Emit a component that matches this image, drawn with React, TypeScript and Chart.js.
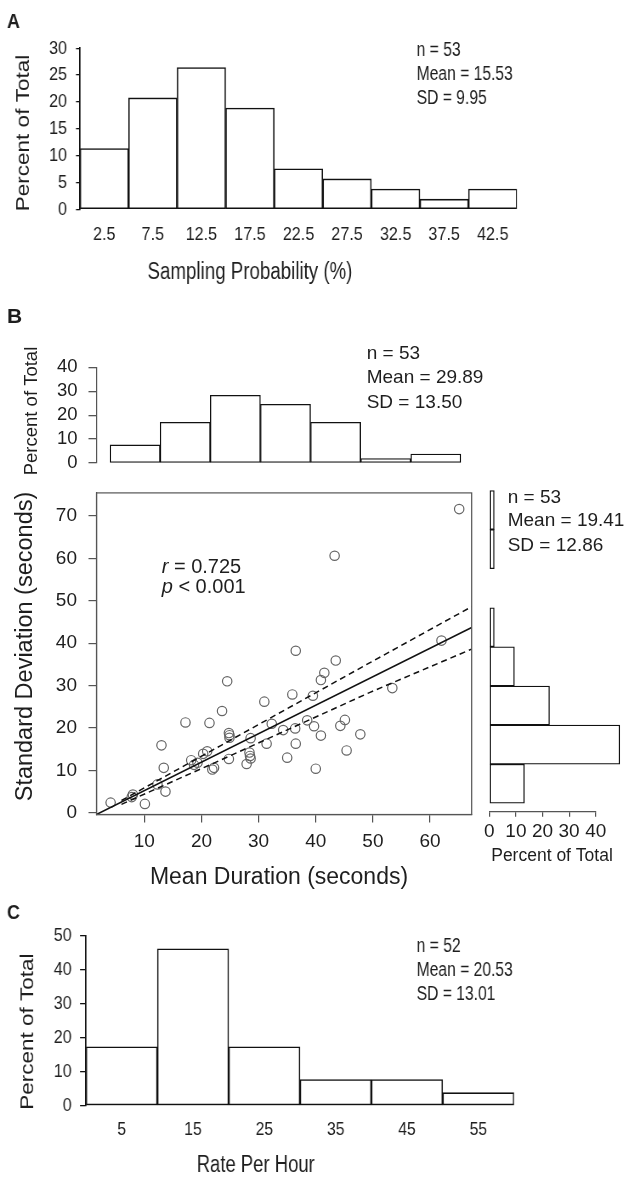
import React, { useEffect, useRef } from 'react';
import { Chart, registerables } from 'chart.js';

Chart.register(...registerables);

const FONT = "'Liberation Sans', Arial, Helvetica, sans-serif";
const TEXT = '#1e1e1e';
const INK = '#111111';
const GREY = '#555555';

// ---------- Panel A: sampling probability ----------
const samplingBins = ['2.5', '7.5', '12.5', '17.5', '22.5', '27.5', '32.5', '37.5', '42.5'];
const samplingPct = [11.32, 20.75, 26.42, 18.87, 7.55, 5.66, 3.77, 1.89, 3.77];
const samplingStats = ['n = 53', 'Mean = 15.53', 'SD = 9.95'];

// ---------- Panel B: duration scatter with marginal histograms ----------
const durationBinMids = [8.39, 17.16, 25.93, 34.7, 43.47, 52.24, 61.01];
const durationPct = [7.55, 16.98, 28.3, 24.53, 16.98, 1.89, 3.77];
const durationStats = ['n = 53', 'Mean = 29.89', 'SD = 13.50'];

const sdBinMids = [6.44, 15.13, 23.82, 32.51, 41.2, 49.88, 58.57, 67.26];
const sdPct = [13.21, 49.06, 22.64, 9.43, 1.89, 0, 1.89, 1.89];
const sdStats = ['n = 53', 'Mean = 19.41', 'SD = 12.86'];

const meanDuration = [
  4.1, 8.0, 7.8, 10.1, 12.3, 13.7, 13.0, 13.4, 17.2, 18.2, 18.7, 19.3, 20.3, 21.0, 21.4, 22.2, 21.9, 23.6,
  24.5, 24.8, 24.9, 24.9, 24.8, 28.4, 28.5, 28.6, 27.9, 28.6, 31.0, 31.4, 32.3, 34.3, 35.0, 35.9, 36.4, 36.5,
  36.5, 38.5, 39.5, 39.7, 40.0, 40.9, 40.9, 41.5, 43.5, 43.3, 44.3, 45.1, 45.4, 47.8, 53.4, 62.0, 65.1,
];
const sdDuration = [
  2.4, 4.3, 3.7, 2.1, 6.7, 5.0, 15.9, 10.6, 21.3, 12.4, 11.3, 11.8, 13.9, 14.5, 21.2, 10.6, 10.2, 24.0,
  31.0, 18.8, 17.7, 18.3, 12.7, 14.2, 13.4, 12.8, 11.5, 17.6, 26.2, 16.3, 21.0, 19.5, 13.0, 27.9, 19.9, 16.3,
  38.2, 21.8, 27.6, 20.4, 10.4, 31.3, 18.2, 33.0, 35.9, 60.6, 20.5, 21.9, 14.7, 18.5, 29.4, 40.6, 71.6,
];
const fitX = [1.63, 67.29];
const fitY = [-0.4, 43.7];
const ciX = [6.0, 23.3, 49.5, 67.29];
const ciUpper = [2.9, 15.8, 35.4, 48.6];
const ciLower = [2.0, 12.4, 28.4, 38.6];
const corrR = '0.725';
const corrP = '0.001';

// ---------- Panel C: rate per hour ----------
const rateBins = ['5', '15', '25', '35', '45', '55'];
const ratePct = [17.31, 46.15, 17.31, 7.69, 7.69, 3.85];
const rateStats = ['n = 52', 'Mean = 20.53', 'SD = 13.01'];

// Panels A and C are horizontally condensed in the original figure
const WIDE = 753;
const K = 640 / WIDE;
const cx = (x: number) => x / K;

// ---------- text plugin ----------
type Seg = { t: string; italic?: boolean };
type TextItem = {
  text: string | Seg[];
  x: number;
  y: number;
  size: number;
  weight?: string;
  align?: 'left' | 'center' | 'right';
  baseline?: CanvasTextBaseline;
  rotate?: number;
  sx?: number;
  color?: string;
};

const textPlugin = {
  id: 'figText',
  afterDraw(chart: any, _args: any, opts: any) {
    const items: TextItem[] = (opts && opts.items) || [];
    const ox = (opts && opts.ox) || 0;
    const oy = (opts && opts.oy) || 0;
    const kx = (opts && opts.kx) || 1;
    const ctx = chart.ctx as CanvasRenderingContext2D;
    for (const it of items) {
      ctx.save();
      ctx.translate((it.x - ox) / kx, it.y - oy);
      if (it.rotate) ctx.rotate(it.rotate);
      if (it.sx) ctx.scale(it.sx, 1);
      ctx.fillStyle = it.color || TEXT;
      ctx.textBaseline = it.baseline || 'alphabetic';
      ctx.textAlign = 'left';
      const segs: Seg[] = typeof it.text === 'string' ? [{ t: it.text }] : it.text;
      const fontOf = (s: Seg) => `${s.italic ? 'italic ' : ''}${it.weight || 'normal'} ${it.size}px ${FONT}`;
      let total = 0;
      const widths = segs.map((s) => {
        ctx.font = fontOf(s);
        const w = ctx.measureText(s.t).width;
        total += w;
        return w;
      });
      let x0 = it.align === 'center' ? -total / 2 : it.align === 'right' ? -total : 0;
      segs.forEach((s, i) => {
        ctx.font = fontOf(s);
        ctx.fillText(s.t, x0, 0);
        x0 += widths[i];
      });
      ctx.restore();
    }
  },
};

const framePlugin = {
  id: 'frame',
  afterDatasetsDraw(chart: any, _a: any, opts: any) {
    if (!opts || !opts.show) return;
    const { left, top, right, bottom } = chart.chartArea;
    const ctx = chart.ctx as CanvasRenderingContext2D;
    ctx.save();
    ctx.strokeStyle = opts.color || GREY;
    ctx.lineWidth = opts.width || 1.2;
    ctx.strokeRect(left, top, right - left, bottom - top);
    ctx.restore();
  },
};

const statItems = (lines: string[], x: number, ys: number[], size: number, sx?: number): TextItem[] =>
  lines.map((t, i) => ({ text: t, x, y: ys[i], size, sx }));

const base = (extra: any) => ({
  responsive: false,
  animation: false,
  events: [],
  ...extra,
});

const edgeTicksOnly = (s: any) => {
  s.ticks = [{ value: s.min }, { value: s.max }];
};

function histAxisY(max: number, step: number, width: number, size: number, pad: number, tick: number, color: string, bw: number) {
  return {
    min: 0,
    max,
    ticks: { stepSize: step, autoSkip: false, font: { family: FONT, size }, color: TEXT, padding: pad },
    grid: { display: true, drawOnChartArea: false, drawTicks: true, tickLength: tick, color, lineWidth: 1.3 },
    border: { display: true, color, width: bw },
    afterFit: (s: any) => {
      s.width = width;
    },
  };
}

function catHist(
  canvas: HTMLCanvasElement,
  labels: string[],
  values: number[],
  cfg: { top: number; right: number; yWidth: number; xHeight: number; yMax: number; yStep: number; ySize: number; yPad: number; yTick: number; xSize: number; xPad: number; oy: number; items: TextItem[] }
) {
  return new Chart(canvas, {
    type: 'bar',
    data: {
      labels,
      datasets: [
        {
          data: values,
          backgroundColor: '#ffffff',
          borderColor: INK,
          borderWidth: 1.6,
          borderSkipped: false,
          barPercentage: 1,
          categoryPercentage: 1,
        },
      ],
    },
    options: base({
      layout: { padding: { left: 0, top: cfg.top, right: cfg.right, bottom: 0 }, autoPadding: false },
      plugins: {
        legend: { display: false },
        tooltip: { enabled: false },
        figText: { ox: 0, oy: cfg.oy, kx: K, items: cfg.items },
      },
      scales: {
        x: {
          type: 'category',
          offset: true,
          grid: { display: false, drawTicks: false },
          border: { display: false },
          ticks: { font: { family: FONT, size: cfg.xSize }, color: TEXT, padding: cfg.xPad, maxRotation: 0, autoSkip: false },
          afterFit: (s: any) => {
            s.height = cfg.xHeight;
          },
        },
        y: histAxisY(cfg.yMax, cfg.yStep, cfg.yWidth, cfg.ySize, cfg.yPad, cfg.yTick, INK, 1.7),
      },
    }),
    plugins: [textPlugin],
  });
}

function makeA(canvas: HTMLCanvasElement) {
  return catHist(canvas, samplingBins, samplingPct, {
    top: 48.3,
    right: cx(640 - 517),
    yWidth: cx(80),
    xHeight: 290 - 209.3,
    yMax: 30,
    yStep: 5,
    ySize: 19,
    yPad: cx(9),
    yTick: cx(4),
    xSize: 19,
    xPad: 14.2,
    oy: 0,
    items: [
      { text: 'A', x: 7, y: 27.5, size: 21, weight: 'bold' },
      { text: 'Percent of Total', x: 24, y: 133, size: 22.5, rotate: -Math.PI / 2, align: 'center', baseline: 'middle' },
      { text: 'Sampling Probability (%)', x: 250, y: 279, size: 23.5, sx: 0.937, align: 'center' },
      ...statItems(samplingStats, 416.7, [55.5, 80, 104], 20, 0.92),
    ],
  });
}

function makeC(canvas: HTMLCanvasElement) {
  return catHist(canvas, rateBins, ratePct, {
    top: 45.7,
    right: cx(640 - 514),
    yWidth: cx(86),
    xHeight: 288 - 215.7,
    yMax: 50,
    yStep: 10,
    ySize: 19,
    yPad: cx(8.3),
    yTick: cx(6),
    xSize: 18.5,
    xPad: 13.3,
    oy: 890,
    items: [
      { text: 'C', x: 7, y: 919.3, size: 21, weight: 'bold' },
      { text: 'Percent of Total', x: 28, y: 1031.7, size: 22.5, rotate: -Math.PI / 2, align: 'center', baseline: 'middle' },
      { text: 'Rate Per Hour', x: 255.7, y: 1171.5, size: 23.5, sx: 0.925, align: 'center' },
      ...statItems(rateStats, 416.7, [952.3, 975.6, 999.5], 20, 0.92),
    ],
  });
}

function makeTopHist(canvas: HTMLCanvasElement) {
  return new Chart(canvas, {
    type: 'bar',
    data: {
      datasets: [
        {
          data: durationBinMids.map((m, i) => ({ x: m, y: durationPct[i] })),
          backgroundColor: '#ffffff',
          borderColor: INK,
          borderWidth: 1.3,
          borderSkipped: false,
          barPercentage: 1,
          categoryPercentage: 1,
        },
      ],
    },
    options: base({
      layout: { padding: { left: 0, top: 77.3, right: 168.3, bottom: 27 }, autoPadding: false },
      plugins: {
        legend: { display: false },
        tooltip: { enabled: false },
        figText: {
          ox: 0,
          oy: 290,
          items: [
            { text: 'B', x: 7, y: 322.5, size: 21, weight: 'bold' },
            { text: 'Percent of Total', x: 32, y: 411, size: 18.5, rotate: -Math.PI / 2, align: 'center', baseline: 'middle' },
            ...statItems(durationStats, 366.7, [358.5, 383.3, 407.5], 19),
          ],
        },
      },
      scales: {
        x: { type: 'linear', min: 1.63, max: 67.29, offset: false, display: false, afterBuildTicks: edgeTicksOnly },
        y: histAxisY(40, 10, 96.5, 18.5, 11, 8, GREY, 1.2),
      },
    }),
    plugins: [textPlugin],
  });
}

function makeScatter(canvas: HTMLCanvasElement) {
  const pts = meanDuration.map((x, i) => ({ x, y: sdDuration[i] }));
  const line = (xs: number[], ys: number[], dash: number[]) => ({
    type: 'line',
    data: xs.map((x, i) => ({ x, y: ys[i] })),
    borderColor: INK,
    borderWidth: 1.5,
    borderDash: dash,
    pointRadius: 0,
    fill: false,
    tension: 0,
  });
  const axisCommon = (size: number, pad: number, lo: number, hi: number) => ({
    type: 'linear',
    ticks: { stepSize: 10, includeBounds: false, autoSkip: false, font: { family: FONT, size }, color: TEXT, padding: pad },
    afterBuildTicks: (s: any) => {
      s.ticks = s.ticks.filter((t: any) => t.value % 10 === 0 && t.value >= lo && t.value <= hi);
    },
    grid: { display: true, drawOnChartArea: false, drawTicks: true, tickLength: 8, color: GREY, lineWidth: 1.2 },
    border: { display: true, color: GREY, width: 1.2 },
  });
  return new Chart(canvas, {
    type: 'scatter',
    data: {
      datasets: [
        line(fitX, fitY, []),
        line(ciX, ciUpper, [6, 4]),
        line(ciX, ciLower, [6, 4]),
        {
          data: pts,
          pointRadius: 4.7,
          pointBackgroundColor: 'rgba(0,0,0,0)',
          pointBorderColor: '#666666',
          pointBorderWidth: 1.2,
        },
      ] as any,
    },
    options: base({
      layout: { padding: { left: 0, top: 3.3, right: 8.3, bottom: 0 }, autoPadding: false },
      plugins: {
        legend: { display: false },
        tooltip: { enabled: false },
        frame: { show: true, color: GREY, width: 1.2 },
        figText: {
          ox: 0,
          oy: 470,
          items: [
            { text: 'Standard Deviation (seconds)', x: 25.5, y: 646.5, size: 23.5, rotate: -Math.PI / 2, align: 'center', baseline: 'middle' },
            { text: 'Mean Duration (seconds)', x: 279, y: 884, size: 23, align: 'center' },
            { text: [{ t: 'r', italic: true }, { t: ' = ' + corrR }], x: 161.7, y: 572.5, size: 20 },
            { text: [{ t: 'p', italic: true }, { t: ' < ' + corrP }], x: 161.7, y: 592.5, size: 20 },
          ],
        },
      },
      scales: {
        x: {
          ...axisCommon(19, 7.8, 10, 60),
          min: 1.63,
          max: 67.29,
          afterFit: (s: any) => {
            s.height = 75.5;
          },
        },
        y: {
          ...axisCommon(19, 11.5, 0, 70),
          min: -0.4,
          max: 75.42,
          afterFit: (s: any) => {
            s.width = 96.5;
          },
        },
      },
    }),
    plugins: [textPlugin, framePlugin],
  });
}

function makeRightHist(canvas: HTMLCanvasElement) {
  return new Chart(canvas, {
    type: 'bar',
    data: {
      datasets: [
        {
          data: sdBinMids.map((m, i) => ({ x: sdPct[i] > 0 ? sdPct[i] : null, y: m })),
          backgroundColor: '#ffffff',
          borderColor: INK,
          borderWidth: 1.3,
          borderSkipped: false,
          barPercentage: 1,
          categoryPercentage: 1,
          clip: false,
        },
      ],
    },
    options: base({
      indexAxis: 'y',
      layout: { padding: { left: 9.3, top: 3.3, right: 44.3, bottom: 0 }, autoPadding: false },
      plugins: {
        legend: { display: false },
        tooltip: { enabled: false },
        figText: {
          ox: 480,
          oy: 470,
          items: [
            ...statItems(sdStats, 507.7, [502.5, 526, 550.5], 19),
            { text: 'Percent of Total', x: 552, y: 860.5, size: 17.5, align: 'center' },
          ],
        },
      },
      scales: {
        y: { type: 'linear', min: 0.22, max: 75.42, offset: false, display: false, afterBuildTicks: edgeTicksOnly },
        x: {
          type: 'linear',
          min: 0,
          max: 40,
          ticks: { stepSize: 10, autoSkip: false, maxRotation: 0, minRotation: 0, font: { family: FONT, size: 19 }, color: TEXT, padding: 3.6 },
          grid: { display: true, drawOnChartArea: false, drawTicks: true, tickLength: 5, color: GREY, lineWidth: 1.2 },
          border: { display: true, color: GREY, width: 1.2 },
          afterFit: (s: any) => {
            s.height = 78.3;
          },
        },
      },
    }),
    plugins: [textPlugin],
  });
}

export default function App() {
  const refA = useRef<HTMLCanvasElement>(null);
  const refTop = useRef<HTMLCanvasElement>(null);
  const refSc = useRef<HTMLCanvasElement>(null);
  const refRight = useRef<HTMLCanvasElement>(null);
  const refC = useRef<HTMLCanvasElement>(null);

  useEffect(() => {
    const charts = [
      makeA(refA.current!),
      makeTopHist(refTop.current!),
      makeScatter(refSc.current!),
      makeRightHist(refRight.current!),
      makeC(refC.current!),
    ];
    return () => charts.forEach((c) => c.destroy());
  }, []);

  const abs = (left: number, top: number, w: number, h: number): React.CSSProperties => ({
    position: 'absolute',
    left,
    top,
    width: w,
    height: h,
  });

  return (
    <div style={{ position: 'absolute', left: 0, top: 0, width: 640, height: 1178, background: '#ffffff', overflow: 'hidden' }}>
      <canvas ref={refA} width={WIDE} height={290} style={abs(0, 0, 640, 290)} />
      <canvas ref={refTop} width={640} height={200} style={abs(0, 290, 640, 200)} />
      <canvas ref={refSc} width={480} height={420} style={abs(0, 470, 480, 420)} />
      <canvas ref={refRight} width={160} height={420} style={abs(480, 470, 160, 420)} />
      <canvas ref={refC} width={WIDE} height={288} style={abs(0, 890, 640, 288)} />
    </div>
  );
}
